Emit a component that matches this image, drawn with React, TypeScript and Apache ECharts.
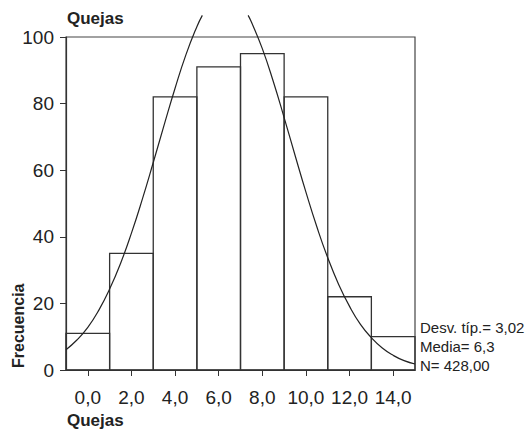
import React, { useEffect, useRef } from "react";
import * as echarts from "echarts";

const binCenters = [0, 2, 4, 6, 8, 10, 12, 14];
const frequencies = [11, 35, 82, 91, 95, 82, 22, 10];
const tickValues = [0, 2, 4, 6, 8, 10, 12, 14];

// Normal curve (left part, clipped above the frame)
const curveLeftX = [-1, -0.5, 0, 0.5, 1, 1.5, 2, 2.5, 3, 3.5, 4, 4.5, 5, 5.25];
const curveLeftY = [6.1, 9.0, 12.8, 17.9, 24.3, 32.0, 41.1, 51.3, 62.3, 73.6, 84.6, 94.7, 103.1, 106.5];
// right part
const curveRightX = [7.35, 7.5, 8, 8.5, 9, 9.5, 10, 10.5, 11, 11.5, 12, 12.5, 13, 13.5, 14, 14.5, 15];
const curveRightY = [106.5, 104.5, 96.5, 86.7, 75.8, 64.5, 53.4, 43.0, 33.7, 25.7, 19.1, 13.7, 9.7, 6.6, 4.4, 2.8, 1.8];

const statsLines = ["Desv. típ.= 3,02", "Media= 6,3", "N= 428,00"];
const titleText = "Quejas";
const xName = "Quejas";
const yName = "Frecuencia";

const FONT = "'Liberation Sans', Arial, sans-serif";
const INK = "#222";

export default function App() {
  const ref = useRef<HTMLDivElement>(null);
  useEffect(() => {
    document.body.style.margin = "0";
    if (!ref.current) return;
    const chart = echarts.init(ref.current, undefined, { renderer: "svg" });
    chart.setOption({
      animation: false,
      backgroundColor: "#fff",
      grid: {
        left: 66,
        right: 114,
        top: 37,
        bottom: 66,
        show: true,
        borderColor: "#444",
        borderWidth: 1.2,
        backgroundColor: "transparent",
      },
      xAxis: {
        type: "value",
        min: -1,
        max: 15,
        splitLine: { show: false },
        axisLine: { show: true, onZero: false, lineStyle: { color: "#333", width: 1.2 } },
        axisTick: { show: true, length: 6, customValues: tickValues, lineStyle: { color: "#333" } },
        axisLabel: {
          customValues: tickValues,
          margin: 18,
          fontFamily: FONT,
          fontSize: 19,
          color: INK,
          formatter: (v: number) => v.toFixed(1).replace(".", ","),
        },
      },
      yAxis: {
        type: "value",
        min: 0,
        max: 100,
        interval: 20,
        splitLine: { show: false },
        axisLine: { show: true, onZero: false, lineStyle: { color: "#333", width: 1.2 } },
        axisTick: { show: true, length: 6, lineStyle: { color: "#333" } },
        axisLabel: { margin: 12, fontFamily: FONT, fontSize: 19, color: INK },
      },
      series: [
        {
          type: "custom",
          data: binCenters.map((c, i) => [c, frequencies[i]]),
          renderItem: (params: any, api: any) => {
            const x = api.value(0);
            const v = api.value(1);
            const p1 = api.coord([x - 1, v]);
            const p2 = api.coord([x + 1, 0]);
            return {
              type: "rect",
              shape: { x: p1[0], y: p1[1], width: p2[0] - p1[0], height: p2[1] - p1[1] },
              style: { fill: "none", stroke: "#333", lineWidth: 1.3 },
            };
          },
          z: 2,
        },
        {
          type: "line",
          data: curveLeftX.map((x, i) => [x, curveLeftY[i]]),
          smooth: true,
          showSymbol: false,
          clip: false,
          lineStyle: { color: "#222", width: 1.2 },
          z: 3,
        },
        {
          type: "line",
          data: curveRightX.map((x, i) => [x, curveRightY[i]]),
          smooth: true,
          showSymbol: false,
          clip: false,
          lineStyle: { color: "#222", width: 1.2 },
          z: 3,
        },
      ],
      graphic: [
        {
          type: "text",
          left: 67,
          top: 10,
          style: { text: titleText, font: `bold 17px ${FONT}`, fill: INK },
        },
        {
          type: "text",
          left: 67,
          top: 412,
          style: { text: xName, font: `bold 17px ${FONT}`, fill: INK },
        },
        {
          type: "text",
          x: 26,
          y: 368,
          rotation: Math.PI / 2,
          style: {
            text: yName,
            font: `bold 16px ${FONT}`,
            fill: INK,
            align: "left",
            verticalAlign: "bottom",
          },
        },
        ...statsLines.map((t, i) => ({
          type: "text",
          x: 420,
          y: 327 + i * 19,
          style: { text: t, font: `15px ${FONT}`, fill: INK, align: "left", verticalAlign: "middle" },
        })),
      ],
    });
    return () => chart.dispose();
  }, []);
  return <div ref={ref} style={{ width: 529, height: 436 }} />;
}
